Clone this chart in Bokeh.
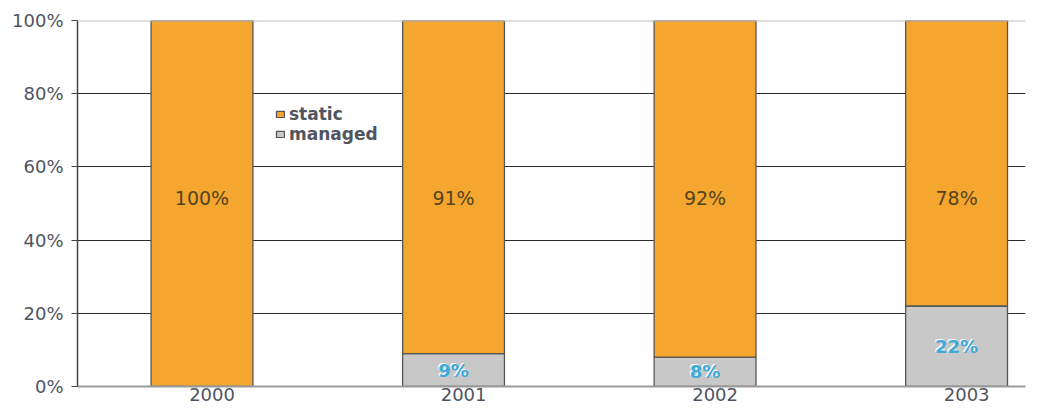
from bokeh.plotting import figure
from bokeh.models import (ColumnDataSource, FixedTicker, Legend, LegendItem, Span)
from bokeh.core.properties import value
from bokeh.embed import file_html
from bokeh.resources import INLINE

# Share of sites by type per year (percent)
years = ["2000", "2001", "2002", "2003"]
static = [100, 91, 92, 78]
managed = [0, 9, 8, 22]
y_ticks = [0, 20, 40, 60, 80, 100]
y_tick_labels = ["0%", "20%", "40%", "60%", "80%", "100%"]

ORANGE = "#F4A62E"
GREY = "#C8C8C8"
OUTLINE = "#555555"
TEXT = "#505460"
FONT = "DejaVu Sans"

xs = list(range(len(years)))
source = ColumnDataSource(dict(
    x=xs,
    year=years,
    static=static,
    managed=managed,
    static_label=[f"{v}%" for v in static],
    static_pos=[51.5] * len(years),
))

p = figure(width=1046, height=411, output_backend="svg", toolbar_location=None,
           x_range=(-0.495, 3.274), y_range=(0, 100),
           min_border_left=77, min_border_right=21, min_border_top=20, min_border_bottom=25)
p.outline_line_color = None
p.background_fill_color = "white"
p.border_fill_color = "white"

# stacked bars: managed at the bottom, static on top
renderers = p.vbar_stack(["managed", "static"], x="x", width=0.405, source=source,
                         fill_color=[GREY, ORANGE], line_color=OUTLINE, line_width=1.3)

# value labels
p.text(x="x", y="static_pos", text="static_label", source=source,
       text_align="center", text_baseline="middle", text_color="#54441E",
       text_font=value(FONT), text_font_size="19px")

m_idx = [i for i, v in enumerate(managed) if v > 0]
msrc = ColumnDataSource(dict(
    x=[xs[i] for i in m_idx],
    y=[managed[i] / 2 for i in m_idx],
    label=[f"{managed[i]}%" for i in m_idx],
))
p.text(x="x", y="y", text="label", source=msrc, x_offset=-1, y_offset=-1,
       text_align="center", text_baseline="middle", text_color="white",
       text_font=value(FONT), text_font_size="18px", text_font_style="bold")
p.text(x="x", y="y", text="label", source=msrc,
       text_align="center", text_baseline="middle", text_color="#3FAAD8",
       text_font=value(FONT), text_font_size="18px", text_font_style="bold")

# grid
p.xgrid.visible = False
p.ygrid.ticker = FixedTicker(ticks=[20, 40, 60, 80])
p.ygrid.grid_line_color = "#2a2a2a"
p.ygrid.grid_line_width = 1
p.add_layout(Span(location=100, dimension="width", line_color="#BBBBBB", line_width=2))

# y axis
p.yaxis.ticker = FixedTicker(ticks=y_ticks)
p.yaxis.major_label_overrides = {t: l for t, l in zip(y_ticks, y_tick_labels)}
p.yaxis.axis_line_color = "#444444"
p.yaxis.axis_line_width = 1.5
p.yaxis.major_tick_line_color = "#444444"
p.yaxis.major_tick_out = 6
p.yaxis.major_tick_in = 0
p.yaxis.minor_tick_line_color = None
p.yaxis.major_label_standoff = 8
p.yaxis.major_label_text_font = FONT
p.yaxis.major_label_text_font_size = "18px"
p.yaxis.major_label_text_color = TEXT

# x axis, year labels sit slightly right of each bar centre
x_ticks = [x + 0.04 for x in xs]
p.xaxis.ticker = FixedTicker(ticks=x_ticks)
p.xaxis.major_label_overrides = {t: y for t, y in zip(x_ticks, years)}
p.xaxis.axis_line_color = "#9A9A9A"
p.xaxis.axis_line_width = 2
p.xaxis.major_tick_line_color = None
p.xaxis.major_tick_out = 0
p.xaxis.major_tick_in = 0
p.xaxis.minor_tick_line_color = None
p.xaxis.major_label_standoff = 1
p.xaxis.major_label_text_font = FONT
p.xaxis.major_label_text_font_size = "18px"
p.xaxis.major_label_text_color = TEXT

legend = Legend(items=[LegendItem(label="static", renderers=[renderers[1]]),
                       LegendItem(label="managed", renderers=[renderers[0]])],
                location=(198, 242), orientation="vertical",
                glyph_width=10, glyph_height=8, label_standoff=4, spacing=0,
                padding=0, margin=0, label_height=16,
                label_text_font=FONT, label_text_font_size="17px",
                label_text_font_style="bold", label_text_color=TEXT,
                background_fill_alpha=0, border_line_color=None)
p.add_layout(legend, "center")

open("out.html", "w").write(file_html(p, INLINE))
